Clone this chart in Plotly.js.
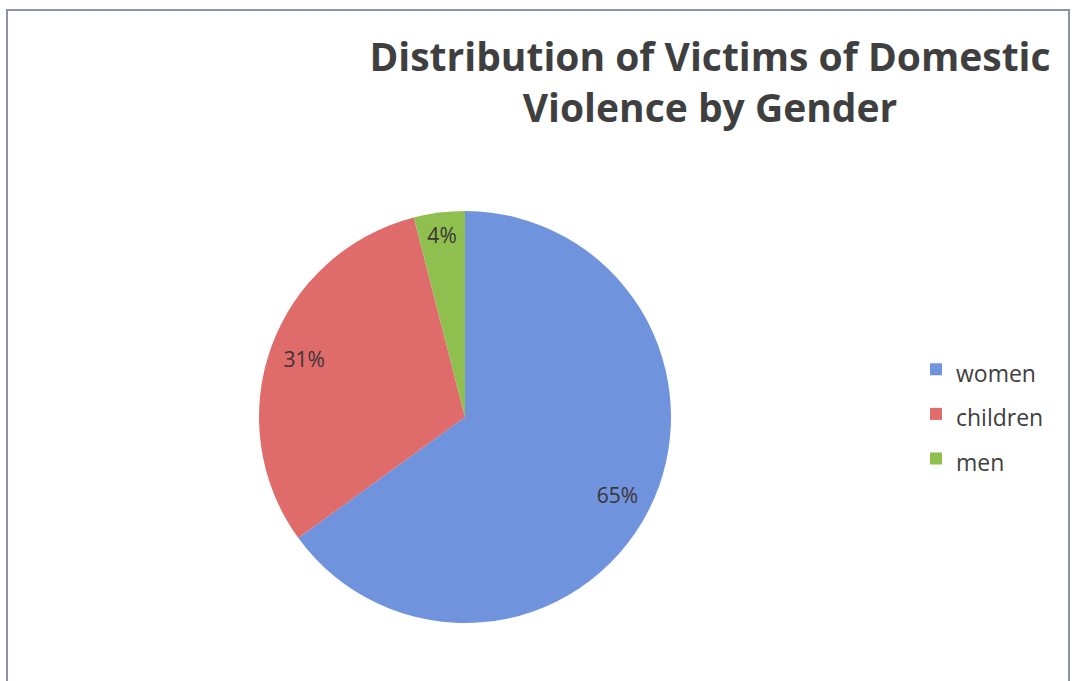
<!DOCTYPE html>
<html>
<head>
<meta charset="utf-8">
<script src="https://cdn.plot.ly/plotly-3.0.1.min.js"></script>
<style>html,body{margin:0;padding:0;background:#fff;}#chart{width:1076px;height:681px;}</style>
</head>
<body>
<div id="chart"></div>
<script>
const categories = ["women", "children", "men"];
const shares = [65, 31, 4];
const sliceColors = ["#6f93dc", "#e06b6b", "#8fc04f"];
const chartTitle = "Distribution of Victims of Domestic<br>Violence by Gender";

const W = 1076, H = 681;
const pieDomain = {x: [255 / W, 675 / W], y: [1 - 623 / H, 1 - 211 / H]};

// filled slices (legend + colours)
const slices = {
  type: "pie",
  labels: categories.map(c => '<span style="font-size:23px">' + c + '</span>'),
  values: shares,
  sort: false,
  direction: "clockwise",
  rotation: 0,
  marker: {colors: sliceColors, line: {width: 0}},
  textinfo: "none",
  domain: pieDomain,
  hoverinfo: "skip"
};

// transparent ring carrying the percentage labels near the rim
const labelRing = {
  type: "pie",
  labels: categories,
  values: shares,
  sort: false,
  direction: "clockwise",
  rotation: 0,
  hole: 0.66,
  showlegend: false,
  marker: {colors: ["rgba(0,0,0,0)", "rgba(0,0,0,0)", "rgba(0,0,0,0)"], line: {width: 0}},
  texttemplate: "%{value}%",
  textposition: "inside",
  insidetextorientation: "horizontal",
  textfont: {family: "'Open Sans', sans-serif", size: 21, color: "#3d3434"},
  domain: pieDomain,
  hoverinfo: "skip"
};

const layout = {
  width: W, height: H,
  margin: {l: 0, r: 0, t: 0, b: 0},
  paper_bgcolor: "#ffffff",
  title: {
    text: chartTitle,
    font: {family: "'Open Sans', sans-serif", size: 39, color: "#3f3f3f", weight: "bold"},
    x: 710 / W, xanchor: "center", xref: "paper",
    y: 1 - 71 / H, yanchor: "top", yref: "container"
  },
  showlegend: true,
  legend: {
    x: 916 / W, xanchor: "left",
    y: 1 - 414 / H, yanchor: "middle",
    itemwidth: 30,
    font: {family: "'Open Sans', sans-serif", size: 32, color: "#404040"},
    bgcolor: "rgba(0,0,0,0)"
  },
  shapes: [{
    type: "rect", xref: "paper", yref: "paper",
    x0: 7 / W, x1: 1069 / W, y0: -0.05, y1: 1 - 10 / H,
    line: {color: "#8a93a8", width: 2}, fillcolor: "rgba(0,0,0,0)"
  }]
};

Plotly.newPlot("chart", [slices, labelRing], layout, {displayModeBar: false, staticPlot: true});
</script>
</body>
</html>
